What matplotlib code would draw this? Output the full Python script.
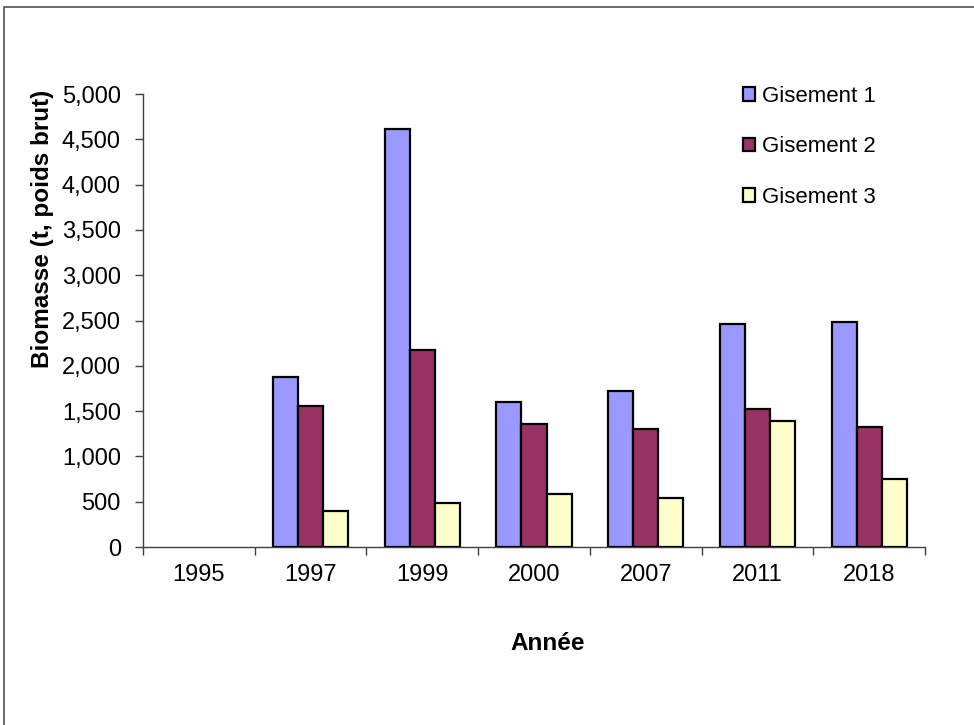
import numpy as np
import matplotlib
matplotlib.use("Agg")
from matplotlib import pyplot as plt
from matplotlib.patches import Rectangle
from matplotlib.ticker import FuncFormatter

plt.rcParams['font.family'] = ['Liberation Sans', 'DejaVu Sans']

# biomass per year and per bed (t, gross weight); no survey values in 1995
years = ["1995", "1997", "1999", "2000", "2007", "2011", "2018"]
gisement_1 = [np.nan, 1880, 4614, 1597, 1722, 2458, 2480]
gisement_2 = [np.nan, 1553, 2174, 1354, 1299, 1520, 1324]
gisement_3 = [np.nan, 397, 486, 582, 544, 1394, 747]
series = [("Gisement 1", gisement_1, "#9999FF"),
          ("Gisement 2", gisement_2, "#993366"),
          ("Gisement 3", gisement_3, "#FFFFCC")]

fig = plt.figure(figsize=(9.74, 7.25), dpi=100)
ax = fig.add_axes([143 / 974, 1 - 547 / 725, (925 - 143) / 974, (547 - 94) / 725])

# outer chart frame (open on the right and bottom)
fig.patches.append(Rectangle((4 / 974, -0.1), 2.0, 1.1 - 7.5 / 725,
                             transform=fig.transFigure, fill=False,
                             edgecolor="#505050", linewidth=1.2))

x = np.arange(len(years))
w = 0.224
for i, (name, vals, col) in enumerate(series):
    ax.bar(x + (i - 1) * w, vals, w, color=col, edgecolor="black",
           linewidth=1.6, label=name, zorder=3)

ax.set_xlim(-0.5, len(years) - 0.5)
ax.set_ylim(0, 5000)
ax.set_yticks(np.arange(0, 5001, 500))
ax.yaxis.set_major_formatter(FuncFormatter(lambda v, p: f"{int(v):,}"))

# category boundaries carry the ticks, labels sit in the middle
ax.set_xticks(np.arange(len(years) + 1) - 0.5)
ax.set_xticklabels([])
ax.set_xticks(x, minor=True)
ax.set_xticklabels(years, minor=True)
ax.tick_params(axis="x", which="major", length=6, width=1, color="#404040")
ax.tick_params(axis="x", which="minor", length=0, pad=12, labelsize=17)
ax.tick_params(axis="y", length=6, width=1, color="#404040", pad=10, labelsize=17)

for s in ["top", "right"]:
    ax.spines[s].set_visible(False)
for s in ["left", "bottom"]:
    ax.spines[s].set_color("#404040")
    ax.spines[s].set_linewidth(1)

fig.text(43 / 974, 1 - 229 / 725, "Biomasse (t, poids brut)", rotation=90,
         ha="center", va="center", fontsize=17.5, fontweight="bold")
fig.text(548 / 974, 1 - 643 / 725, "Année", ha="center", va="center",
         fontsize=17.5, fontweight="bold")

fig.legend(loc="upper left", bbox_to_anchor=(743 / 974, 1 - 86 / 725),
           frameon=False, fontsize=16, handlelength=0.55, handleheight=0.55,
           handletextpad=0.3, labelspacing=1.32, borderpad=0,
           borderaxespad=0)

fig.savefig("out.png", dpi=100, facecolor="white")
